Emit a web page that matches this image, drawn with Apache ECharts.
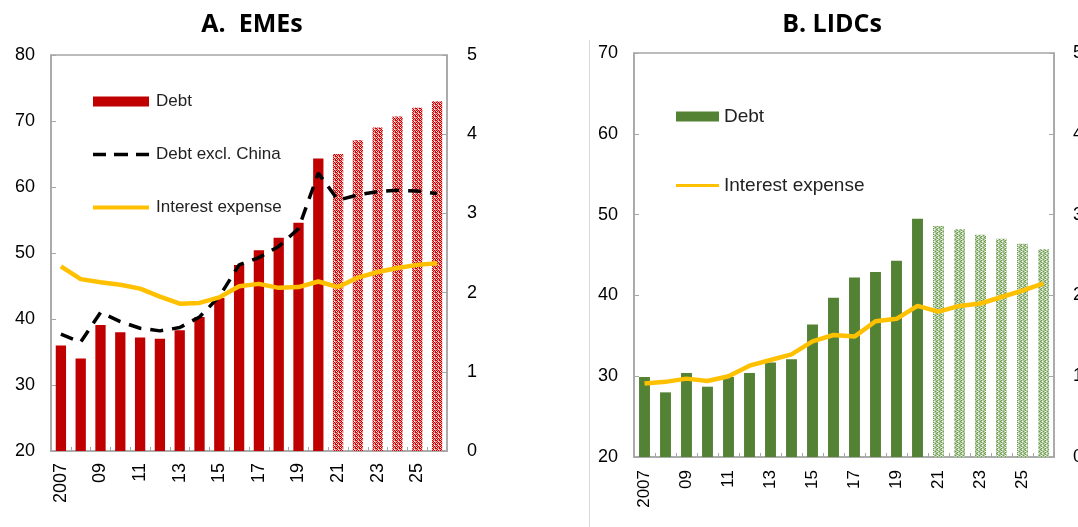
<!DOCTYPE html>
<html>
<head>
<meta charset="utf-8">
<script src="https://cdn.jsdelivr.net/npm/echarts@6/dist/echarts.min.js"></script>
<style>
html,body{margin:0;padding:0;background:#fff;}
#chart{width:1078px;height:527px;}
</style>
</head>
<body>
<div id="chart"></div>
<script>
// ---- data ----
const years = ['2007','2008','2009','2010','2011','2012','2013','2014','2015','2016','2017','2018','2019','2020','2021','2022','2023','2024','2025','2026'];
const xTickLabels = ['2007','','09','','11','','13','','15','','17','','19','','21','','23','','25',''];
const firstForecastIndex = 14; // 2021 onward are projections
const emeDebt = [36.0,34.0,39.1,38.0,37.2,37.0,38.3,40.3,43.2,48.2,50.4,52.3,54.6,64.3,65.0,67.1,69.0,70.7,72.0,73.0];
const emeDebtExChina = [37.7,36.5,41.0,39.6,38.6,38.2,38.7,40.3,43.4,48.2,49.3,51.0,53.7,62.1,58.0,58.8,59.3,59.5,59.4,59.0];
const emeInterest = [2.33,2.17,2.13,2.10,2.05,1.95,1.86,1.87,1.94,2.08,2.11,2.06,2.07,2.14,2.07,2.19,2.26,2.31,2.35,2.37];
const lidcDebt = [29.9,28.0,30.4,28.7,29.9,30.4,31.7,32.1,36.4,39.7,42.2,42.9,44.3,49.5,48.6,48.2,47.5,47.0,46.4,45.7];
const lidcInterest = [0.91,0.93,0.97,0.94,1.00,1.13,1.20,1.27,1.43,1.51,1.49,1.68,1.71,1.87,1.80,1.87,1.90,1.98,2.06,2.15];
const panelTitles = ['A.  EMEs', 'B. LIDCs'];

// ---- styles ----
const RED = '#C00000', GREEN = '#548235', GOLD = '#FFC000', AX = '#a6a6a6';
function makePattern(map, colors) {
  const h = map.length, w = map[0].length;
  const c = document.createElement('canvas');
  c.width = w; c.height = h;
  const g = c.getContext('2d');
  for (let y=0;y<h;y++) for (let x=0;x<w;x++) {
    g.fillStyle = colors[map[y][x]]; g.fillRect(x,y,1,1);
  }
  return {image: c, repeat: 'repeat'};
}
const redPattern = makePattern(['0110','1021','0101','2010'], ['#c80000','#ec9494','#ffffff']);
const greenPattern = makePattern(['1011','0121','1011','1210'], ['#6b9a4c','#b3cda2','#ffffff']);

function barData(vals, pattern) {
  return vals.map((v,i) => i >= firstForecastIndex ? {value: v, itemStyle: {color: pattern}} : v);
}

const font = 'Liberation Sans';
const dashIcon = 'path://M0,0h0.01v0.01h-0.01z M0,3.2h13v3.6h-13z M21,3.2h14v3.6h-14z M43,3.2h13v3.6h-13z M0,9.99h0.01v0.01h-0.01z';
const lineIcon = 'path://M0,0h0.01v0.01h-0.01z M0,3h56v4h-56z M0,9.99h0.01v0.01h-0.01z';

function xAxis(gi, fs, margin) {
  return {
    type: 'category', gridIndex: gi, data: years,
    axisLine: {lineStyle: {color: AX, width: 1.5}},
    axisTick: {show: true, inside: true, length: 4, interval: 0, lineStyle: {color: AX}},
    axisLabel: {interval: 0, rotate: 90, margin: margin, color: '#000', fontFamily: font, fontSize: fs,
      formatter: (v, idx) => xTickLabels[idx]}
  };
}
function yAxis(gi, pos, min, max, interval, fs, margin) {
  return {
    type: 'value', gridIndex: gi, position: pos, min: min, max: max, interval: interval,
    splitLine: {show: false},
    axisLine: {show: true, lineStyle: {color: AX, width: 1.5}},
    axisTick: {show: true, inside: true, length: 5, lineStyle: {color: AX}},
    axisLabel: {color: '#000', fontFamily: font, fontSize: fs, margin: margin}
  };
}

const chart = echarts.init(document.getElementById('chart'));
chart.setOption({
  animation: false,
  backgroundColor: '#fff',
  title: [
    {text: panelTitles[0], left: 247, top: 7, textAlign: 'center',
     textStyle: {fontFamily: 'Open Sans', fontWeight: 'bold', fontSize: 25, color: '#000'}},
    {text: panelTitles[1], left: 827, top: 7, textAlign: 'center',
     textStyle: {fontFamily: 'Open Sans', fontWeight: 'bold', fontSize: 25, color: '#000'}}
  ],
  grid: [
    {left: 51, right: 631, top: 55, bottom: 76, show: true, borderColor: AX, borderWidth: 1.5, outerBoundsMode: 'none', containLabel: false},
    {left: 634, right: 24, top: 53, bottom: 70, show: true, borderColor: AX, borderWidth: 1.5, outerBoundsMode: 'none', containLabel: false}
  ],
  legend: [
    {orient: 'vertical', left: 88, top: 88, itemWidth: 56, itemHeight: 10, itemGap: 36,
     data: [{name: 'Debt|A', icon: 'rect'}, {name: 'Debt excl. China|A', icon: dashIcon}, {name: 'Interest expense|A', icon: lineIcon}],
     formatter: n => n.split('|')[0],
     textStyle: {fontFamily: font, fontSize: 17, color: '#222', padding: [0,0,0,2]}},
    {orient: 'vertical', left: 671, top: 102, itemWidth: 43, itemHeight: 10, itemGap: 50,
     data: [{name: 'Debt|B', icon: 'rect'}, {name: 'Interest expense|B', icon: lineIcon}],
     formatter: n => n.split('|')[0],
     textStyle: {fontFamily: font, fontSize: 19, color: '#222', padding: [0,0,0,0]}}
  ],
  xAxis: [xAxis(0, 18, 12), xAxis(1, 17, 13)],
  yAxis: [
    yAxis(0, 'left', 20, 80, 10, 18, 16), yAxis(0, 'right', 0, 5, 1, 18, 20),
    yAxis(1, 'left', 20, 70, 10, 18, 16), yAxis(1, 'right', 0, 5, 1, 18, 19)
  ],
  series: [
    {name: 'Debt|A', type: 'bar', xAxisIndex: 0, yAxisIndex: 0, barWidth: '52%',
     itemStyle: {color: RED}, data: barData(emeDebt, redPattern)},
    {name: 'Debt excl. China|A', type: 'line', xAxisIndex: 0, yAxisIndex: 0, symbol: 'none',
     lineStyle: {color: '#000', width: 3.5, type: [13, 9]}, itemStyle: {color: '#000'}, data: emeDebtExChina, z: 3},
    {name: 'Interest expense|A', type: 'line', xAxisIndex: 0, yAxisIndex: 1, symbol: 'none',
     lineStyle: {color: GOLD, width: 4.5}, itemStyle: {color: GOLD}, data: emeInterest, z: 4},
    {name: 'Debt|B', type: 'bar', xAxisIndex: 1, yAxisIndex: 2, barWidth: '52%',
     itemStyle: {color: GREEN}, data: barData(lidcDebt, greenPattern)},
    {name: 'Interest expense|B', type: 'line', xAxisIndex: 1, yAxisIndex: 3, symbol: 'none',
     lineStyle: {color: GOLD, width: 4.5}, itemStyle: {color: GOLD}, data: lidcInterest, z: 4}
  ],
  graphic: [
    {type: 'line', shape: {x1: 589.5, y1: 40, x2: 589.5, y2: 527}, style: {stroke: '#d9d9d9', lineWidth: 1}}
  ]
});
</script>
</body>
</html>
